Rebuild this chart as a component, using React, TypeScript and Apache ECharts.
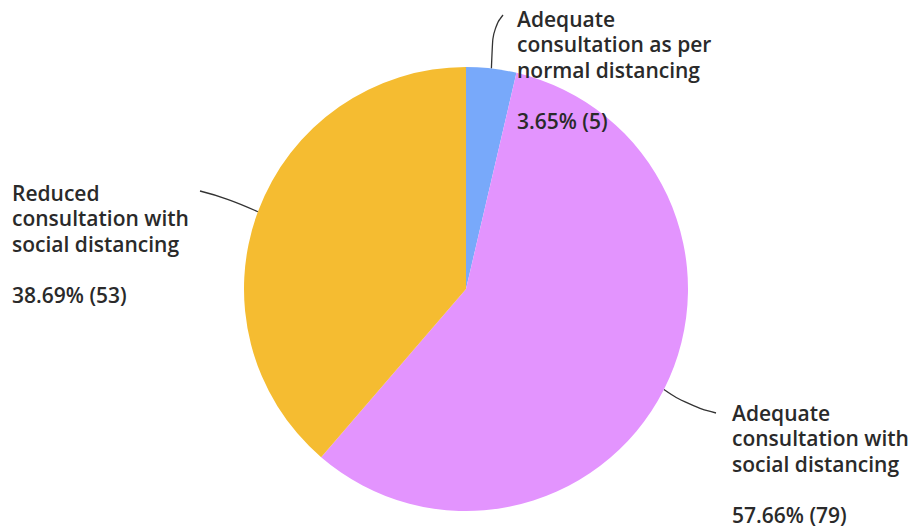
import React, { useEffect, useRef } from "react";
import * as echarts from "echarts";

const categories = [
  "Adequate\nconsultation as per\nnormal distancing",
  "Adequate\nconsultation with\nsocial distancing",
  "Reduced\nconsultation with\nsocial distancing",
];
const counts = [5, 79, 53];
const colors = ["#78a9fa", "#e394fe", "#f5bc31"];

export default function App() {
  const ref = useRef<HTMLDivElement>(null);
  useEffect(() => {
    if (!ref.current) return;
    const chart = echarts.init(ref.current, null, { renderer: "svg" });
    const labelPos: Record<number, { x: number; y: number; mid: number[]; end: number[] }> = {
      0: { x: 517, y: 6, mid: [493, 28], end: [503, 15] },
      1: { x: 732, y: 400, mid: [688, 406], end: [716, 413] },
      2: { x: 12, y: 180, mid: [228, 198], end: [200, 191] },
    };
    chart.setOption({
      animation: false,
      backgroundColor: "#ffffff",
      series: [
        {
          type: "pie",
          center: [466, 289],
          radius: [0, 222],
          startAngle: 90,
          clockwise: true,
          avoidLabelOverlap: false,
          data: categories.map((name, i) => ({
            name,
            value: counts[i],
            itemStyle: { color: colors[i] },
          })),
          label: {
            show: true,
            position: "outside",
            formatter: "{b}\n\n{d}% ({c})",
            fontFamily: "Open Sans",
            fontWeight: 600,
            fontSize: 21,
            lineHeight: 25.5,
            color: "#2a2a2a",
            align: "left",
          },
          labelLine: {
            show: true,
            length: 20,
            length2: 20,
            smooth: 0.5,
            lineStyle: { color: "#333333", width: 1.3 },
          },
          labelLayout: (params: any) => {
            const p = labelPos[params.dataIndex];
            const anchor = params.labelLinePoints ? params.labelLinePoints[0] : null;
            const res: any = {
              x: p.x,
              y: p.y,
              align: "left",
              verticalAlign: "top",
            };
            if (anchor) res.labelLinePoints = [anchor, p.mid, p.end];
            return res;
          },
          emphasis: { disabled: true },
        },
      ],
    });
    return () => chart.dispose();
  }, []);
  return (
    <div
      ref={ref}
      style={{ position: "fixed", left: 0, top: 0, width: 912, height: 530 }}
    />
  );
}
